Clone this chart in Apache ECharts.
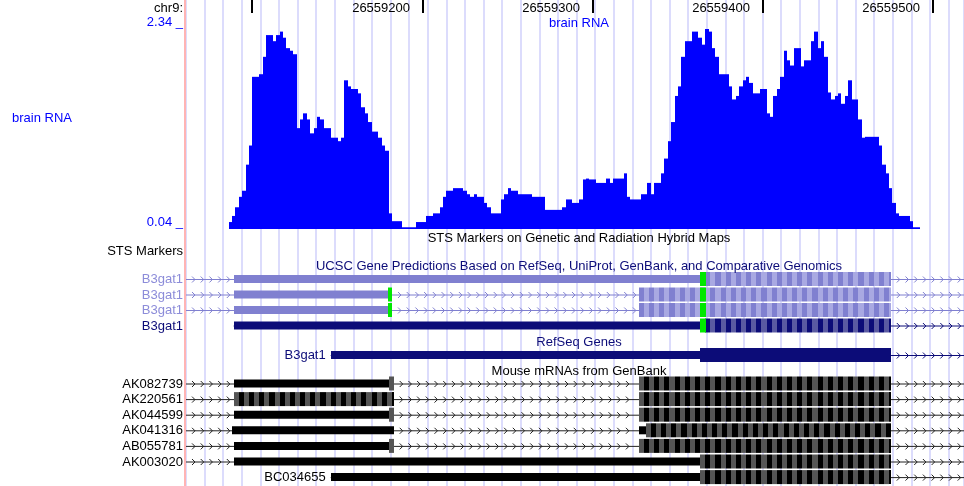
<!DOCTYPE html>
<html>
<head>
<meta charset="utf-8">
<script src="https://cdn.jsdelivr.net/npm/echarts@6/dist/echarts.min.js"></script>
<style>
  html, body { margin: 0; padding: 0; background: #fff; }
  #chart { width: 964px; height: 486px; }
</style>
</head>
<body>
<div id="chart"></div>
<script>
// window shown: chr9:26559061-26559518
const viewStart = 26559061
const viewEnd = 26559518

const rulerTicks = [26559100, 26559200, 26559300, 26559400, 26559500]
const rulerLabels = ['', '26559200', '26559300', '26559400', '26559500']

// brain RNA wiggle, 2 bp bins starting at rnaStart
const rnaScale = [0.04, 2.34]
const rnaStart = 26559086
const rnaBin = 2
const rnaValues = [
  0.12, 0.19, 0.29, 0.41, 0.48, 0.78, 1.00, 1.79, 1.79, 1.82,
  2.02, 2.27, 2.27, 2.20, 2.27, 2.31, 2.24, 2.12, 2.09, 2.05,
  1.20, 1.30, 1.37, 1.30, 1.14, 1.20, 1.33, 1.30, 1.20, 1.20,
  1.09, 1.09, 1.05, 1.09, 1.75, 1.68, 1.65, 1.65, 1.60, 1.44,
  1.37, 1.27, 1.16, 1.16, 1.09, 1.00, 0.94, 0.22, 0.13, 0.13,
  0.13, 0.06, 0.06, 0.06, 0.06, 0.12, 0.12, 0.12, 0.19, 0.19,
  0.22, 0.22, 0.29, 0.41, 0.48, 0.48, 0.51, 0.51, 0.51, 0.48,
  0.44, 0.41, 0.44, 0.41, 0.41, 0.34, 0.29, 0.22, 0.22, 0.22,
  0.38, 0.44, 0.51, 0.48, 0.48, 0.44, 0.44, 0.44, 0.44, 0.41,
  0.41, 0.41, 0.41, 0.26, 0.26, 0.26, 0.26, 0.26, 0.29, 0.38,
  0.38, 0.34, 0.34, 0.38, 0.61, 0.62, 0.61, 0.61, 0.57, 0.57,
  0.57, 0.62, 0.57, 0.62, 0.62, 0.62, 0.68, 0.41, 0.38, 0.38,
  0.38, 0.44, 0.44, 0.57, 0.44, 0.57, 0.57, 0.68, 0.85, 1.05,
  1.27, 1.57, 1.68, 2.02, 2.20, 2.20, 2.31, 2.31, 2.24, 2.16,
  2.34, 2.31, 2.12, 2.02, 1.82, 1.82, 1.82, 1.68, 1.53, 1.57,
  1.68, 1.75, 1.79, 1.72, 1.60, 1.60, 1.65, 1.65, 1.37, 1.33,
  1.57, 1.65, 1.79, 2.09, 1.98, 1.92, 2.12, 2.12, 1.91, 1.98,
  1.98, 2.20, 2.31, 2.12, 2.20, 2.02, 1.61, 1.53, 1.57, 1.60,
  1.48, 1.57, 1.75, 1.53, 1.53, 1.30, 1.09, 1.10, 1.10, 1.10,
  1.10, 1.00, 0.78, 0.68, 0.51, 0.34, 0.22, 0.19, 0.19, 0.19,
  0.13, 0.06, 0.06
]

// [name, txStart, txEnd, blocks]; block = [start, end, kind]
const ucscGenes = [
  ['B3gat1', 26559000, 26559600, [[26559089, 26559363, 'utr'], [26559366, 26559475, 'cds'], [26559363, 26559366, 'start']]],
  ['B3gat1', 26559000, 26559600, [[26559089, 26559180, 'utr'], [26559180, 26559182, 'start'], [26559327, 26559475, 'cds'], [26559363, 26559366, 'start']]],
  ['B3gat1', 26559000, 26559600, [[26559089, 26559180, 'utr'], [26559180, 26559182, 'start'], [26559327, 26559475, 'cds'], [26559363, 26559366, 'start']]],
  ['B3gat1', 26559089, 26559600, [[26559089, 26559363, 'utr'], [26559366, 26559475, 'cds'], [26559363, 26559366, 'start']]],
]
const refseqGenes = [
  ['B3gat1', 26559146, 26559600, [[26559146, 26559363, 'utr'], [26559363, 26559475, 'solid']]],
]
const mrnas = [
  ['AK082739', 26559000, 26559600, [[26559089, 26559180, 'utr'], [26559180, 26559183, 'cds'], [26559327, 26559475, 'cds']]],
  ['AK220561', 26559000, 26559600, [[26559089, 26559183, 'cds'], [26559327, 26559475, 'cds']]],
  ['AK044599', 26559000, 26559600, [[26559089, 26559180, 'utr'], [26559180, 26559183, 'cds'], [26559327, 26559475, 'cds']]],
  ['AK041316', 26559000, 26559600, [[26559088, 26559183, 'utr'], [26559327, 26559331, 'utr'], [26559331, 26559475, 'cds']]],
  ['AB055781', 26559000, 26559600, [[26559089, 26559180, 'utr'], [26559180, 26559183, 'cds'], [26559327, 26559475, 'cds']]],
  ['AK003020', 26559000, 26559600, [[26559089, 26559363, 'utr'], [26559363, 26559475, 'cds']]],
  ['BC034655', 26559146, 26559600, [[26559146, 26559363, 'utr'], [26559363, 26559475, 'cds']]],
]

// layout (pixel rows)
const ucscRowY = [279, 294.5, 310, 325.5]
const refseqRowY = [355]
const mrnaRowY = [383.5, 399.1, 414.7, 430.3, 445.9, 461.5, 477.1]

const FONT = '"Liberation Sans", Arial, Helvetica, sans-serif'
const lightGene = { line: '#8080d0', utr: '#8080d0', stripes: ['#8080d0', '#a9a9e2'], solid: '#8080d0', label: '#8c8cd9' }
const darkGene = { line: '#0c0c78', utr: '#0c0c78', stripes: ['#0c0c78', '#5a5aa2'], solid: '#0c0c78', label: '#0c0c78' }
const mrnaLook = { line: '#222', utr: '#000', stripes: ['#555', '#000'], solid: '#000', label: '#000' }
const startColor = '#00e800'

function geneRenderer(items, rowsY, lookFor, gutterAlways) {
  return function (params, api) {
    const i = params.dataIndex
    const [name, from, to, blocks] = items[i]
    const st = lookFor(i)
    const px = (bp) => api.coord([bp, 0])[0]
    const y = api.coord([viewStart, rowsY[i]])[1]
    const left = px(viewStart)
    const right = px(viewEnd)
    const a = Math.max(px(from), left)
    const b = Math.min(px(to), right)
    const kids = []
    kids.push({ type: 'line', shape: { x1: a, y1: y + 0.5, x2: b, y2: y + 0.5 }, style: { stroke: st.line, lineWidth: 1 } })
    const cov = blocks.map((k) => [px(k[0]), px(k[1])]).sort((p, q) => p[0] - q[0])
    const gaps = []
    let cur = a
    cov.forEach((c) => {
      if (c[0] > cur + 1) gaps.push([cur, c[0]])
      cur = Math.max(cur, c[1])
    })
    if (b > cur + 1) gaps.push([cur, b])
    gaps.forEach((g) => {
      for (let c = g[0] + 9; c <= g[1] - 2; c += 8.7) {
        kids.push({
          type: 'polyline',
          shape: { points: [[c - 3, y - 2.5], [c, y + 0.5], [c - 3, y + 3.5]] },
          style: { stroke: st.line, lineWidth: 1, fill: null },
        })
      }
    })
    const order = { utr: 0, cds: 1, solid: 1, start: 2 }
    blocks.slice().sort((p, q) => order[p[2]] - order[q[2]]).forEach((k) => {
      const kind = k[2]
      if (kind === 'cds') {
        let n = 0
        for (let s = k[0]; s < k[1]; s += 3, n++) {
          const x0 = Math.round(px(s))
          const x1 = Math.round(px(Math.min(s + 3, k[1])))
          kids.push({ type: 'rect', shape: { x: x0, y: y - 7, width: x1 - x0, height: 14 }, style: { fill: st.stripes[n % 2] } })
        }
      } else if (kind === 'start') {
        const x0 = Math.floor(px(k[0]))
        const x1 = Math.ceil(px(k[1]))
        kids.push({ type: 'rect', shape: { x: x0, y: y - 7, width: x1 - x0, height: 14 }, style: { fill: startColor } })
      } else {
        const x0 = Math.round(px(k[0]))
        const x1 = Math.round(px(k[1]))
        const h = kind === 'utr' ? 8 : 14
        const fill = kind === 'utr' ? st.utr : st.solid
        kids.push({ type: 'rect', shape: { x: x0, y: y - h / 2, width: x1 - x0, height: h }, style: { fill } })
      }
    })
    const startPx = px(from)
    const inGutter = gutterAlways || startPx < left + 70
    kids.push({
      type: 'text',
      style: {
        text: name, x: inGutter ? 183 : startPx - 5, y: y + 0.5,
        align: 'right', verticalAlign: 'middle',
        fontSize: 13, fontFamily: FONT, fill: st.label,
      },
    })
    return { type: 'group', children: kids }
  }
}

function titleText(text, y, color, x, align) {
  return {
    type: 'text', z: 100, x: x || 579, y,
    style: { text, align: align || 'center', verticalAlign: 'middle', fontSize: 13, fontFamily: FONT, fill: color },
  }
}

const chart = echarts.init(document.getElementById('chart'))
chart.setOption({
  animation: false,
  grid: [
    { left: 186, right: 0, top: 29, height: 200 },
    { left: 186, right: 0, top: 0, bottom: 0 },
  ],
  xAxis: [
    { gridIndex: 0, type: 'value', min: viewStart, max: viewEnd, show: false },
    { gridIndex: 1, type: 'value', min: viewStart, max: viewEnd, show: false },
    {
      gridIndex: 1, type: 'value', min: 0, max: 41.83, interval: 1,
      axisLine: { show: false }, axisTick: { show: false }, axisLabel: { show: false },
      splitLine: { show: true, lineStyle: { color: '#dcdcfc', width: 2 } },
    },
  ],
  yAxis: [
    { gridIndex: 0, type: 'value', min: rnaScale[0], max: rnaScale[1], show: false },
    { gridIndex: 1, type: 'value', min: 0, max: 486, inverse: true, show: false },
  ],
  graphic: [
    { type: 'line', z: 100, shape: { x1: 185, y1: 0, x2: 185, y2: 486 }, style: { stroke: '#ffb4b4', lineWidth: 2 } },
    titleText('chr9:', 8.5, '#000', 183, 'right'),
    titleText('brain RNA', 23, '#0000ff'),
    titleText('brain RNA', 118, '#0000ff', 12, 'left'),
    titleText('STS Markers on Genetic and Radiation Hybrid Maps', 238, '#000'),
    titleText('STS Markers', 251, '#000', 183, 'right'),
    titleText('UCSC Gene Predictions Based on RefSeq, UniProt, GenBank, and Comparative Genomics', 266, '#0c0c78'),
    titleText('RefSeq Genes', 342, '#0c0c78'),
    titleText('Mouse mRNAs from GenBank', 371, '#000'),
  ],
  series: [
    {
      // base ruler
      type: 'custom', xAxisIndex: 1, yAxisIndex: 1,
      data: rulerTicks.map((t, i) => [t, i]),
      renderItem(params, api) {
        const x = Math.round(api.coord([api.value(0), 0])[0])
        return {
          type: 'group',
          children: [
            { type: 'rect', shape: { x: x - 1, y: 0, width: 2, height: 13 }, style: { fill: '#000' } },
            {
              type: 'text',
              style: {
                text: rulerLabels[params.dataIndex], x: x - 13, y: 8.5, align: 'right', verticalAlign: 'middle',
                fontSize: 13, fontFamily: FONT, fill: '#000',
              },
            },
          ],
        }
      },
    },
    {
      // wiggle scale labels
      type: 'custom', xAxisIndex: 0, yAxisIndex: 0,
      data: rnaScale.map((v) => [viewStart, v]),
      renderItem(params, api) {
        const p = api.coord([api.value(0), api.value(1)])
        return {
          type: 'text',
          style: {
            text: api.value(1).toFixed(2) + ' _', x: 183, y: p[1] - 6.5, align: 'right', verticalAlign: 'middle',
            fontSize: 13, fontFamily: FONT, fill: '#0000ff',
          },
        }
      },
    },
    {
      // brain RNA coverage
      type: 'custom', xAxisIndex: 0, yAxisIndex: 0,
      encode: { x: 0, y: 1 },
      data: rnaValues.map((v, i) => [rnaStart + i * rnaBin, v]),
      renderItem(params, api) {
        const p0 = api.coord([api.value(0), rnaScale[0]])
        const p1 = api.coord([api.value(0) + rnaBin, api.value(1)])
        const x0 = Math.round(p0[0])
        const x1 = Math.round(p1[0])
        return {
          type: 'rect',
          shape: { x: x0, y: p1[1], width: x1 - x0, height: p0[1] - p1[1] },
          style: { fill: '#0000ff' },
        }
      },
    },
    {
      type: 'custom', xAxisIndex: 1, yAxisIndex: 1,
      data: ucscGenes.map((g, i) => [g[1], ucscRowY[i]]),
      renderItem: geneRenderer(ucscGenes, ucscRowY, (i) => (i < 3 ? lightGene : darkGene), true),
    },
    {
      type: 'custom', xAxisIndex: 1, yAxisIndex: 1,
      data: refseqGenes.map((g, i) => [g[1], refseqRowY[i]]),
      renderItem: geneRenderer(refseqGenes, refseqRowY, () => darkGene, false),
    },
    {
      type: 'custom', xAxisIndex: 1, yAxisIndex: 1,
      data: mrnas.map((g, i) => [g[1], mrnaRowY[i]]),
      renderItem: geneRenderer(mrnas, mrnaRowY, () => mrnaLook, false),
    },
  ],
})
</script>
</body>
</html>
